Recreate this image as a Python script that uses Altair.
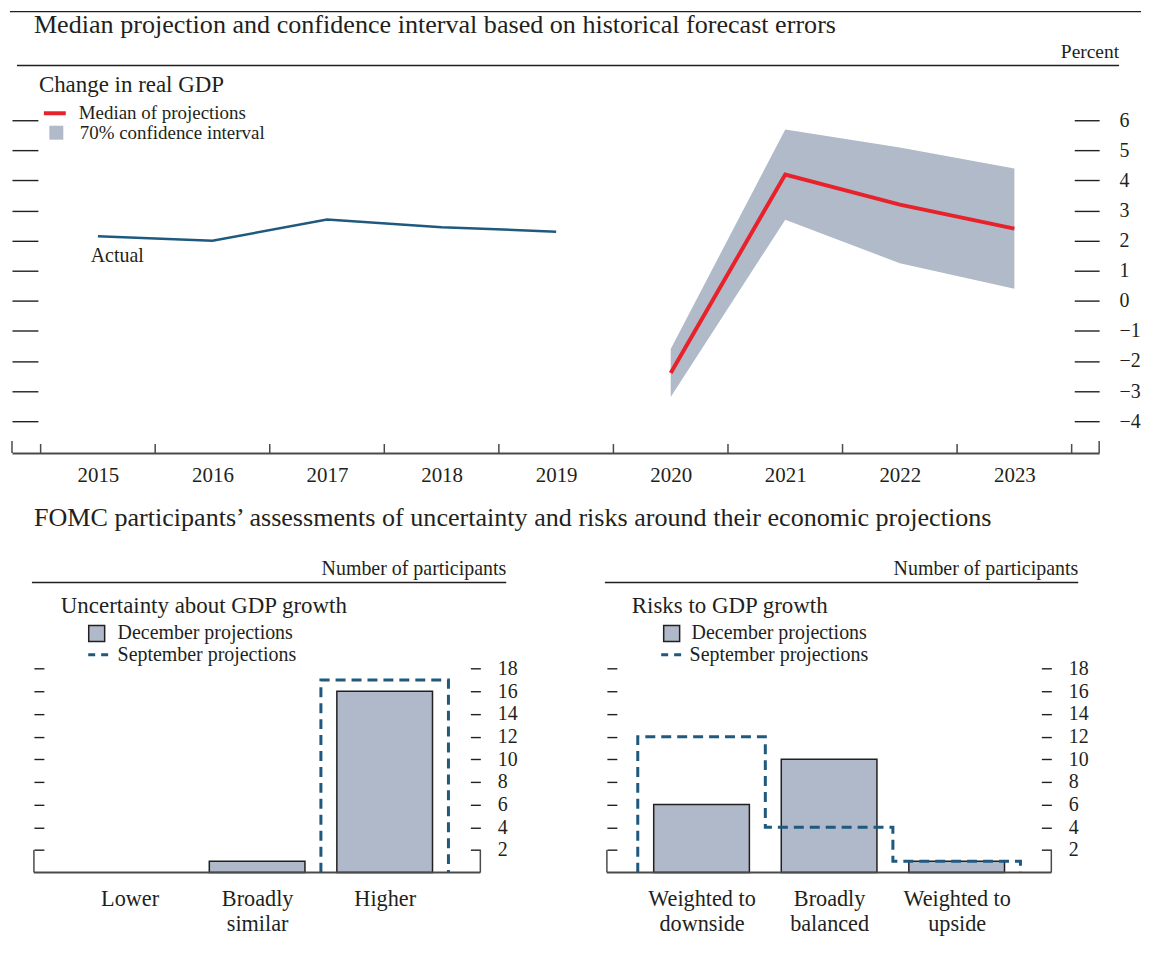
import json
import altair as alt
import pandas as pd

# ---------------- data ----------------
actual_years = [2015, 2016, 2017, 2018, 2019]
actual_values = [2.15, 2.0, 2.7, 2.45, 2.3]
proj_years = [2020, 2021, 2022, 2023]
median_values = [-2.4, 4.2, 3.2, 2.4]
ci_lower = [-3.2, 2.7, 1.25, 0.4]
ci_upper = [-1.6, 5.7, 5.1, 4.4]
year_labels = [2015, 2016, 2017, 2018, 2019, 2020, 2021, 2022, 2023]
percent_ticks = [-4, -3, -2, -1, 0, 1, 2, 3, 4, 5, 6]

uncertainty_labels = ["Lower", "Broadly\nsimilar", "Higher"]
uncertainty_december = [0, 1, 16]
uncertainty_september = [0, 0, 17]
risk_labels = ["Weighted to\ndownside", "Broadly\nbalanced", "Weighted to\nupside"]
risk_december = [6, 10, 1]
risk_september = [12, 4, 1]
count_ticks = [2, 4, 6, 8, 10, 12, 14, 16, 18]

# ---------------- styles ----------------
FONT = "Liberation Serif"
TEXT = "#231f20"
AXIS = "#4a4a4a"
RED = "#e8222a"
BAND = "#b0bac9"
NAVY = "#1f5a7e"
BAR = "#afb9c9"

one = pd.DataFrame({"k": [0]})


def label(text, x, y, size, align="left"):
    return alt.Chart(one).mark_text(
        text=text, font=FONT, fontSize=size, color=TEXT, align=align, baseline="middle"
    ).encode(x=alt.value(x), y=alt.value(y))


def hrule(x1, x2, y, width=1.5):
    return alt.Chart(one).mark_rule(color=TEXT, strokeWidth=width).encode(
        x=alt.value(x1), x2=alt.value(x2), y=alt.value(y)
    )


# ---------------- top chart ----------------
TOP_W, TOP_H = 1091, 352
X_DOM = [2014.25, 2023.74]
Y_DOM = [-5.06, 6.6]
xs = alt.Scale(domain=X_DOM, nice=False, zero=False)
ys = alt.Scale(domain=Y_DOM, nice=False, zero=False)

x_axis = alt.Axis(values=year_labels, format="d", tickSize=0, domainColor=AXIS, domainWidth=2,
                  labelFont=FONT, labelFontSize=21, labelColor=TEXT, labelPadding=12,
                  labelFlush=False, labelOverlap=False, grid=False, title=None)
left_axis = alt.Axis(orient="left", values=percent_ticks, labels=False, tickSize=26, offset=-26,
                     domain=False, grid=False, tickColor=TEXT, tickWidth=1.4, title=None)
right_axis = alt.Axis(orient="right", values=percent_ticks, tickSize=25, offset=-25, domain=False,
                      grid=False, tickColor=TEXT, tickWidth=1.4, labelFont=FONT, labelFontSize=20,
                      labelColor=TEXT, labelPadding=20, title=None)

proj = pd.DataFrame({"year": proj_years, "median": median_values, "lo": ci_lower, "hi": ci_upper})
proj["band"] = "70% confidence interval"
proj["series"] = "Median of projections"
act = pd.DataFrame({"year": actual_years, "value": actual_values})

area = alt.Chart(proj).mark_area(opacity=1).encode(
    x=alt.X("year:Q", scale=xs, axis=x_axis),
    y=alt.Y("lo:Q", scale=ys, axis=left_axis),
    y2="hi:Q",
    fill=alt.Fill("band:N", scale=alt.Scale(domain=["70% confidence interval"], range=[BAND]),
                  legend=alt.Legend(orient="none", legendX=35, legendY=21, title=None,
                                    symbolType="square", symbolSize=196, symbolStrokeWidth=0,
                                    labelFont=FONT, labelFontSize=19, labelColor=TEXT,
                                    labelOffset=14, labelLimit=400, padding=0, symbolOffset=0)),
)

actual_line = alt.Chart(act).mark_line(color=NAVY, strokeWidth=2.5).encode(
    x=alt.X("year:Q", scale=xs, axis=x_axis),
    y=alt.Y("value:Q", scale=ys, axis=None),
)

median_line = alt.Chart(proj).mark_line(strokeWidth=4).encode(
    x=alt.X("year:Q", scale=xs, axis=x_axis),
    y=alt.Y("median:Q", scale=ys, axis=right_axis),
    stroke=alt.Stroke("series:N", scale=alt.Scale(domain=["Median of projections"], range=[RED]),
                      legend=alt.Legend(orient="none", legendX=30, legendY=-2, title=None,
                                        symbolType="stroke", symbolSize=484, symbolStrokeWidth=4,
                                        labelFont=FONT, labelFontSize=19, labelColor=TEXT,
                                        labelOffset=11, labelLimit=400, padding=0, symbolOffset=0)),
)

bounds = pd.DataFrame({"b": [y - 0.5 for y in year_labels] + [year_labels[-1] + 0.5]})
bounds["y0"] = Y_DOM[0]
bounds["y1"] = Y_DOM[0] + 0.3
year_ticks = alt.Chart(bounds).mark_rule(color=AXIS, strokeWidth=1.5).encode(
    x=alt.X("b:Q", scale=xs, axis=x_axis), y=alt.Y("y0:Q", scale=ys, axis=None), y2="y1:Q")

ends = pd.DataFrame({"b": X_DOM})
ends["y0"] = Y_DOM[0]
ends["y1"] = Y_DOM[0] + 0.4
end_ticks = alt.Chart(ends).mark_rule(color=AXIS, strokeWidth=1.5).encode(
    x=alt.X("b:Q", scale=xs, axis=x_axis), y=alt.Y("y0:Q", scale=ys, axis=None), y2="y1:Q")

top = alt.layer(
    area, actual_line, median_line, year_ticks, end_ticks,
    hrule(-2, 1133, -91, 1.5),
    label("Median projection and confidence interval based on historical forecast errors", 22, -78, 26.2),
    label("Percent", 1111, -50, 19.5, align="right"),
    hrule(5, 1111, -37, 1.5),
    label("Change in real GDP", 27, -17, 23),
    label("Actual", 79, 154, 20),
).resolve_axis(y="independent").properties(width=TOP_W, height=TOP_H)


# ---------------- bottom panels ----------------
Y2_DOM = [0, 19]
ysc = alt.Scale(domain=Y2_DOM, nice=False, zero=False)
HALF_BAR = 0.375


def panel(labels, dec, sept, x_dom, edges, width, left_off, texts, leg_fill_x, leg_stroke_x,
          lab_off_fill, lab_off_stroke):
    n = len(labels)
    xsc = alt.Scale(domain=x_dom, nice=False, zero=False)
    expr = "split(" + json.dumps(labels) + "[datum.value], '\\n')"
    cat_axis = alt.Axis(values=list(range(n)), labelExpr=expr, tickSize=0, domain=False, grid=False,
                        labelFont=FONT, labelFontSize=22.3, labelLineHeight=25, labelPadding=15,
                        labelColor=TEXT, labelFlush=False, labelOverlap=False, title=None)
    l_ax = alt.Axis(orient="left", values=count_ticks, labels=False, tickSize=10, offset=left_off,
                    domain=False, grid=False, tickColor=TEXT, tickWidth=1.4, title=None)
    r_ax = alt.Axis(orient="right", values=count_ticks, tickSize=10, offset=-10, domain=False,
                    grid=False, tickColor=TEXT, tickWidth=1.4, labelFont=FONT, labelFontSize=20,
                    labelColor=TEXT, labelPadding=17, title=None)

    bars = pd.DataFrame({"i": list(range(n)), "dec": dec})
    bars["x0"] = bars["i"] - HALF_BAR
    bars["x1"] = bars["i"] + HALF_BAR
    bars["zero"] = 0
    bars["series"] = "December projections"

    # outline of the September distribution (step around each category)
    pts = [(-0.5, 0)]
    for i, v in enumerate(sept):
        pts += [(i - 0.5, v), (i + 0.5, v)]
    pts.append((n - 0.5, 0))
    while len(pts) > 2 and pts[0][1] == 0 and pts[1][1] == 0:
        pts.pop(0)
    while len(pts) > 2 and pts[-1][1] == 0 and pts[-2][1] == 0:
        pts.pop()
    outline = pd.DataFrame({"o": list(range(len(pts))), "x": [p[0] for p in pts],
                            "y": [p[1] for p in pts]})
    outline["series"] = "September projections"

    bar = alt.Chart(bars).transform_filter("datum.dec > 0").mark_bar(
        stroke=TEXT, strokeWidth=1.5, opacity=1
    ).encode(
        x=alt.X("x0:Q", scale=xsc, axis=cat_axis), x2="x1:Q",
        y=alt.Y("dec:Q", scale=ysc, axis=l_ax), y2="zero:Q",
        fill=alt.Fill("series:N", scale=alt.Scale(domain=["December projections"], range=[BAR]),
                      legend=alt.Legend(orient="none", legendX=leg_fill_x, legendY=-34, title=None,
                                        symbolType="square", symbolSize=256, symbolStrokeWidth=1.5,
                                        symbolStrokeColor=TEXT, labelFont=FONT, labelFontSize=20,
                                        labelColor=TEXT, labelOffset=lab_off_fill, labelLimit=400,
                                        padding=0, symbolOffset=0)),
    )
    step = alt.Chart(outline).mark_line(strokeWidth=3, strokeDash=[10, 6]).encode(
        x=alt.X("x:Q", scale=xsc, axis=cat_axis),
        y=alt.Y("y:Q", scale=ysc, axis=r_ax),
        order="o:Q",
        stroke=alt.Stroke("series:N", scale=alt.Scale(domain=["September projections"], range=[NAVY]),
                          legend=alt.Legend(orient="none", legendX=leg_stroke_x, legendY=-14, title=None,
                                            symbolType="stroke", symbolSize=400, symbolStrokeWidth=3,
                                            symbolDash=[7, 6], labelFont=FONT, labelFontSize=20,
                                            labelColor=TEXT, labelOffset=lab_off_stroke, labelLimit=400,
                                            padding=0, symbolOffset=0)),
    )
    base_df = pd.DataFrame({"a": [edges[0]], "b": [edges[1]], "z": [0]})
    baseline = alt.Chart(base_df).mark_rule(color=AXIS, strokeWidth=2).encode(
        x=alt.X("a:Q", scale=xsc, axis=cat_axis), x2="b:Q", y=alt.Y("z:Q", scale=ysc, axis=None))
    br_df = pd.DataFrame({"a": list(edges), "z": [0, 0], "t": [2, 2]})
    brackets = alt.Chart(br_df).mark_rule(color=AXIS, strokeWidth=1.5).encode(
        x=alt.X("a:Q", scale=xsc, axis=cat_axis), y=alt.Y("z:Q", scale=ysc, axis=None), y2="t:Q")

    return alt.layer(bar, step, baseline, brackets, *texts).resolve_axis(
        y="independent").properties(width=width, height=216)


left = panel(
    uncertainty_labels, uncertainty_december, uncertainty_september,
    [-0.922, 2.75], (-0.75, 2.75), 470, -32,
    [
        label("FOMC participants\u2019 assessments of uncertainty and risks around their economic projections",
              22, -140, 26.2),
        label("Number of participants", 496, -89, 20, align="right"),
        hrule(20, 496, -75, 1.5),
        label("Uncertainty about GDP growth", 49, -52, 23),
    ],
    75, 75, 11, 8,
)
right = panel(
    risk_labels, risk_december, risk_september,
    [-0.742, 2.742], (-0.742, 2.742), 446, -10,
    [
        label("Number of participants", 473, -89, 20, align="right"),
        hrule(-2, 473, -75, 1.5),
        label("Risks to GDP growth", 25, -52, 23),
    ],
    55, 53, 10, 7,
)

bottom = alt.hconcat(left, right, spacing=127, bounds="flush").resolve_scale(
    x="independent", y="independent", fill="independent", stroke="independent"
).resolve_legend(fill="independent", stroke="independent")

chart = alt.vconcat(top, bottom, spacing=205, bounds="flush").resolve_scale(
    x="independent", y="independent", fill="independent", stroke="independent"
).resolve_legend(fill="independent", stroke="independent").properties(
    padding=0
).configure_view(stroke="transparent")

chart.save("out.html", embed_options={"renderer": "svg", "actions": False})
